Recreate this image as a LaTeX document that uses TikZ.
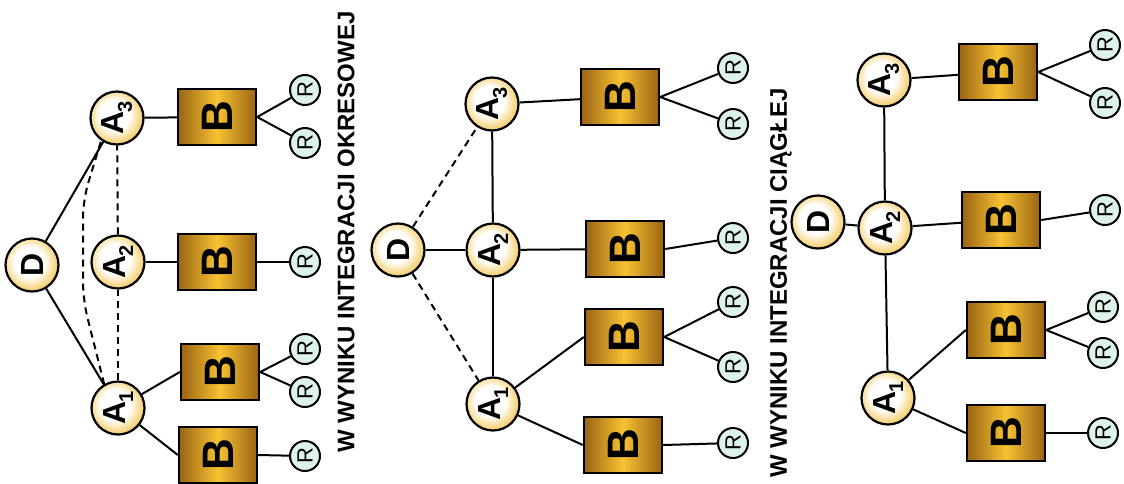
\documentclass[tikz,border=0pt]{standalone}
\usepackage{fontspec}
\setmainfont{Liberation Sans}
\definecolor{goldD}{HTML}{9A6414}
\definecolor{goldL}{HTML}{F7C232}
\definecolor{cream}{HTML}{F5CF6E}
\definecolor{mint}{HTML}{DDF3EA}
\pgfdeclareradialshading{ball}{\pgfpoint{-4bp}{4bp}}{color(0bp)=(white); color(14bp)=(white); color(26bp)=(cream); color(50bp)=(cream)}
\newcommand\Asub[1]{\rotatebox{90}{A\kern-1pt\raisebox{-8pt}{\fontsize{20}{20}\selectfont #1}}}
\newcommand\Rl{\rotatebox{90}{R}}
\newcommand\Bl{\rotatebox{90}{B}}
\tikzset{
  circ/.style={circle, draw, line width=2.2pt, minimum size=53pt, inner sep=0pt, shading=ball, font=\bfseries\fontsize{32}{32}\selectfont},
  bbox/.style={draw, line width=2.4pt, minimum width=78pt, minimum height=56pt, inner sep=0pt, left color=goldD, right color=goldD, middle color=goldL, font=\bfseries\fontsize{44}{44}\selectfont},
  rr/.style={circle, draw, line width=2pt, minimum size=30pt, inner sep=0pt, fill=mint, font=\fontsize{22}{22}\selectfont},
  ln/.style={line width=2pt},
  dsh/.style={line width=2pt, dash pattern=on 7pt off 5pt},
  ttl/.style={font=\bfseries\fontsize{24}{24}\selectfont, inner sep=0pt}
}
\begin{document}
\begin{tikzpicture}[x=1pt, y=-1pt]
\useasboundingbox (0,0) rectangle (1124,483);
\fill[white] (0,0) rectangle (1124,483);
% ---------- diagram 1
\node[circ] (d1) at (32,265) {\rotatebox{90}{D}};
\node[circ] (a13) at (117,118) {\Asub{3}};
\node[circ] (a12) at (118,262) {\Asub{2}};
\node[circ] (a11) at (118,408) {\Asub{1}};
\node[bbox] (b13) at (217,117) {\Bl};
\node[bbox] (b12) at (217,262) {\Bl};
\node[bbox] (b11) at (220,372) {\Bl};
\node[bbox] (b10) at (218,455) {\Bl};
\node[rr] (r13a) at (305,90) {\Rl};
\node[rr] (r13b) at (305,143) {\Rl};
\node[rr] (r12) at (305,262) {\Rl};
\node[rr] (r11a) at (305,349) {\Rl};
\node[rr] (r11b) at (305,392) {\Rl};
\node[rr] (r10) at (305,456) {\Rl};
\node[ttl] (t1) at (346,232) {\rotatebox{90}{W WYNIKU INTEGRACJI OKRESOWEJ}};
\draw[ln] (d1) -- (a13);
\draw[ln] (d1) -- (a11);
\draw[dsh] (a11) -- (a12);
\draw[dsh] (a12) -- (a13);
\draw[dsh, rounded corners=18pt] (a11.120) -- (83,300) -- (83,200) -- (a13.235);
\draw[ln] (a13) -- (b13);
\draw[ln] (a12) -- (b12);
\draw[ln] (a11) -- (b11.west);
\draw[ln] (a11) -- (b10.west);
\draw[ln] (b13.east) -- (r13a);
\draw[ln] (b13.east) -- (r13b);
\draw[ln] (b12.east) -- (r12);
\draw[ln] (b11.east) -- (r11a);
\draw[ln] (b11.east) -- (r11b);
\draw[ln] (b10.east) -- (r10);
% ---------- diagram 2
\node[circ] (d2) at (398,250) {\rotatebox{90}{D}};
\node[circ] (a23) at (492,104) {\Asub{3}};
\node[circ] (a22) at (493,250) {\Asub{2}};
\node[circ] (a21) at (493,404) {\Asub{1}};
\node[bbox] (b23) at (620,97) {\Bl};
\node[bbox] (b22) at (625,249) {\Bl};
\node[bbox] (b21) at (624,337) {\Bl};
\node[bbox] (b20) at (623,445) {\Bl};
\node[rr] (r23a) at (733,68) {\Rl};
\node[rr] (r23b) at (733,124) {\Rl};
\node[rr] (r22) at (733,238) {\Rl};
\node[rr] (r21a) at (733,302) {\Rl};
\node[rr] (r21b) at (733,367) {\Rl};
\node[rr] (r20) at (733,443) {\Rl};
\node[ttl] (t2) at (781,283) {\rotatebox{90}{W WYNIKU INTEGRACJI CIĄGŁEJ}};
\draw[ln] (d2) -- (a22);
\draw[dsh] (d2) -- (a23);
\draw[dsh] (d2) -- (a21);
\draw[ln] (a21) -- (a22);
\draw[ln] (a22) -- (a23);
\draw[ln] (a23) -- (b23);
\draw[ln] (a22) -- (b22);
\draw[ln] (a21) -- (b21.west);
\draw[ln] (a21) -- (b20.west);
\draw[ln] (b23.east) -- (r23a);
\draw[ln] (b23.east) -- (r23b);
\draw[ln] (b22.east) -- (r22);
\draw[ln] (b21.east) -- (r21a);
\draw[ln] (b21.east) -- (r21b);
\draw[ln] (b20.east) -- (r20);
% ---------- diagram 3
\node[circ] (d3) at (818,222) {\rotatebox{90}{D}};
\node[circ] (a33) at (884,80) {\Asub{3}};
\node[circ] (a32) at (885,228) {\Asub{2}};
\node[circ] (a31) at (888,398) {\Asub{1}};
\node[bbox] (b33) at (998,72) {\Bl};
\node[bbox] (b32) at (1001,220) {\Bl};
\node[bbox] (b31) at (1006,330) {\Bl};
\node[bbox] (b30) at (1006,433) {\Bl};
\node[rr] (r33a) at (1105,45) {\Rl};
\node[rr] (r33b) at (1105,103) {\Rl};
\node[rr] (r32) at (1105,210) {\Rl};
\node[rr] (r31a) at (1103,307) {\Rl};
\node[rr] (r31b) at (1103,353) {\Rl};
\node[rr] (r30) at (1103,433) {\Rl};
\draw[ln] (d3) -- (a32);
\draw[ln] (a32) -- (a33);
\draw[ln] (a32) -- (a31);
\draw[ln] (a33) -- (b33);
\draw[ln] (a32) -- (b32);
\draw[ln] (a31) -- (b31.west);
\draw[ln] (a31) -- (b30.west);
\draw[ln] (b33.east) -- (r33a);
\draw[ln] (b33.east) -- (r33b);
\draw[ln] (b32.east) -- (r32);
\draw[ln] (b31.east) -- (r31a);
\draw[ln] (b31.east) -- (r31b);
\draw[ln] (b30.east) -- (r30);
\end{tikzpicture}
\end{document}
